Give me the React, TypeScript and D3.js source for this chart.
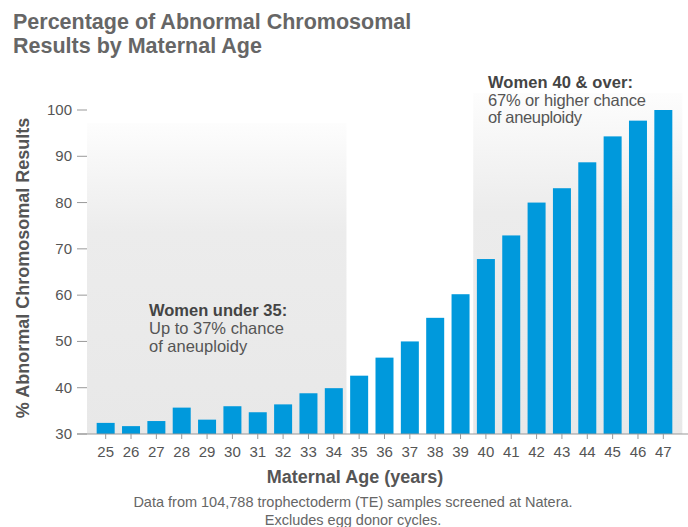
import React from "react";
import * as d3 from "d3";

const ages: string[] = ["25","26","27","28","29","30","31","32","33","34","35","36","37","38","39","40","41","42","43","44","45","46","47"];
const abnormalPct: number[] = [32.4,31.7,32.8,35.7,33.1,36.0,34.7,36.4,38.8,39.9,42.6,46.5,50.0,55.1,60.2,67.8,72.9,80.0,83.1,88.7,94.3,97.7,100];
const yTicks: number[] = [30,40,50,60,70,80,90,100];
const titleLines: string[] = ["Percentage of Abnormal Chromosomal", "Results by Maternal Age"];
const under35Lines: string[] = ["Women under 35:", "Up to 37% chance", "of aneuploidy"];
const over40Lines: string[] = ["Women 40 & over:", "67% or higher chance", "of aneuploidy"];
const footerLines: string[] = ["Data from 104,788 trophectoderm (TE) samples screened at Natera.", "Excludes egg donor cycles."];

const W = 688, H = 527;
const FONT = "'Liberation Sans', Arial, Helvetica, sans-serif";

export default function App() {
  const x = d3.scaleBand<string>().domain(ages).range([93, 676]).paddingInner(0.29).paddingOuter(0.145);
  const y = d3.scaleLinear().domain([30, 100]).range([434, 110]);
  const bw = x.bandwidth();
  const gap = x.step() - bw;
  const p1Right = (x("35") as number) - gap / 2;
  const p2Left = (x("40") as number) - gap / 2;
  const p2Right = (x("47") as number) + bw + 10;
  const base = y(30);
  const over40Len = [145, 158, 94];

  return (
    <svg width={W} height={H} style={{ position: "absolute", left: 0, top: 0, background: "#fff" }} fontFamily={FONT}>
      <defs>
        <linearGradient id="panelGrad" x1="0" y1="0" x2="0" y2="1">
          <stop offset="0" stopColor="#fdfdfd" />
          <stop offset="0.35" stopColor="#ececec" />
          <stop offset="1" stopColor="#e8e8e8" />
        </linearGradient>
      </defs>
      {titleLines.map((t, i) => (
        <text key={t} x={13} y={29 + i * 23.5} fontSize={21.5} fontWeight="bold" fill="#666">{t}</text>
      ))}
      <rect x={87} y={123} width={p1Right - 87} height={base - 123} fill="url(#panelGrad)" />
      <rect x={p2Left} y={93} width={p2Right - p2Left} height={base - 93} fill="url(#panelGrad)" />
      {ages.map((a, i) => (
        <rect key={a} x={x(a)} y={y(abnormalPct[i])} width={bw} height={base - y(abnormalPct[i])} fill="#0099dc" />
      ))}
      <line x1={77} x2={688} y1={base} y2={base} stroke="#999" strokeWidth={1} />
      {yTicks.map((t) => (
        <g key={t}>
          <line x1={77} x2={87} y1={y(t)} y2={y(t)} stroke="#999" strokeWidth={1} />
          <text x={72} y={y(t) + 5} textAnchor="end" fontSize={15} fill="#555">{t}</text>
        </g>
      ))}
      {ages.map((a) => {
        const cx = (x(a) as number) + bw / 2;
        return (
          <g key={"t" + a}>
            <line x1={cx} x2={cx} y1={base} y2={base + 5} stroke="#999" strokeWidth={1} />
            <text x={cx} y={457} textAnchor="middle" fontSize={15} fill="#555">{a}</text>
          </g>
        );
      })}
      <text transform="translate(29,268) rotate(-90)" textAnchor="middle" fontSize={18} fontWeight="bold" fill="#555">% Abnormal Chromosomal Results</text>
      <text x={355} y={483} textAnchor="middle" fontSize={18} fontWeight="bold" fill="#555">Maternal Age (years)</text>
      {under35Lines.map((t, i) => (
        <text key={t} x={149} y={316 + i * 18} fontSize={16.5} fontWeight={i === 0 ? "bold" : "normal"} fill={i === 0 ? "#444" : "#555"}>{t}</text>
      ))}
      {over40Lines.map((t, i) => (
        <text key={t} x={488} y={88 + i * 17.5} fontSize={16.5} textLength={over40Len[i]} lengthAdjust="spacing" fontWeight={i === 0 ? "bold" : "normal"} fill={i === 0 ? "#444" : "#555"}>{t}</text>
      ))}
      {footerLines.map((t, i) => (
        <text key={t} x={353} y={507 + i * 18} textAnchor="middle" fontSize={14.5} fill="#666">{t}</text>
      ))}
    </svg>
  );
}
